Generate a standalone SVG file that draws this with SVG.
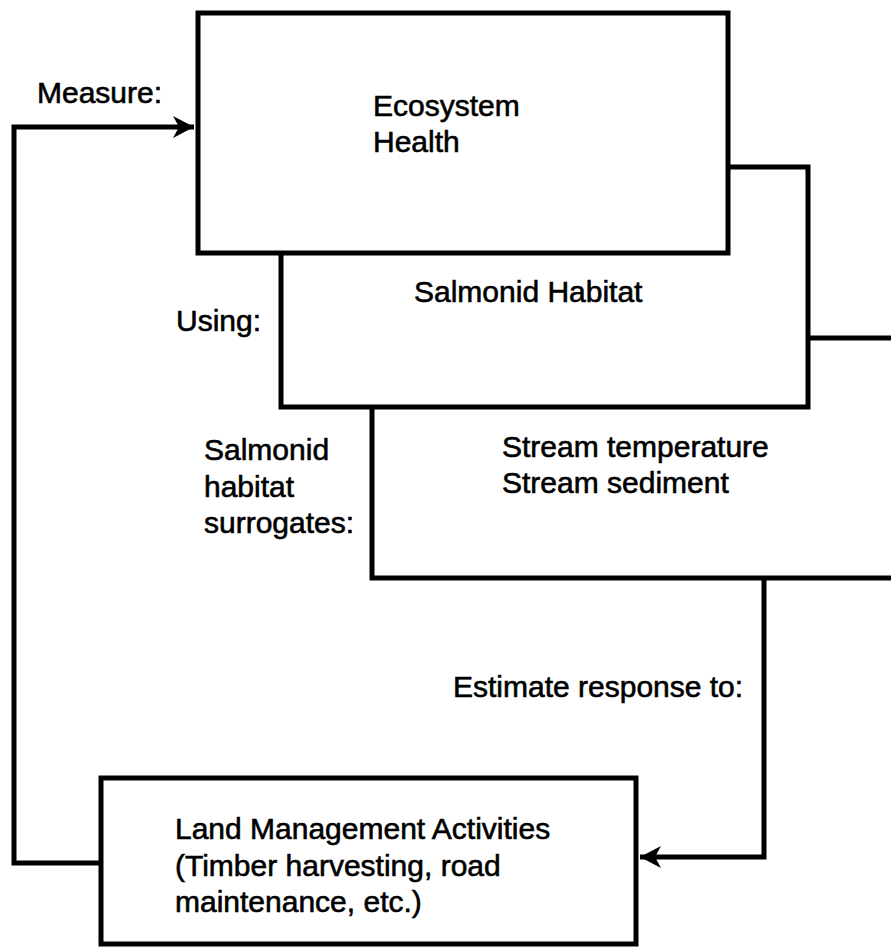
<svg xmlns="http://www.w3.org/2000/svg" width="891" height="948" viewBox="0 0 891 948">
<style>
.box{fill:#fff;stroke:#000;stroke-width:5}
.ln{fill:none;stroke:#000;stroke-width:5;stroke-linejoin:miter}
text{font-family:"Liberation Sans",Arial,sans-serif;font-size:30px;fill:#000;stroke:#000;stroke-width:0.6}
</style>
<defs>
<marker id="ah" markerUnits="userSpaceOnUse" markerWidth="26" markerHeight="26" viewBox="-24 -13 26 26" refX="0" refY="0" orient="auto">
<path d="M0,0 L-21,-11 L-15,0 L-21,11 Z" fill="#000"/>
</marker>
</defs>
<g id="connectors">
<path class="ln" d="M100,863 H14 V127 H194" marker-end="url(#ah)"/>
<path class="ln" d="M764,578 V857 H640" marker-end="url(#ah)"/>
</g>
<g id="stream">
<rect class="box" x="372" y="338" width="540" height="240"/>
<text x="502" y="457">Stream temperature</text>
<text x="502" y="493">Stream sediment</text>
</g>
<g id="salmonid">
<rect class="box" x="281" y="167" width="527" height="240"/>
<text x="414" y="302">Salmonid Habitat</text>
</g>
<g id="ecosystem">
<rect class="box" x="198" y="13" width="530" height="240"/>
<text x="373" y="116">Ecosystem</text>
<text x="373" y="152">Health</text>
</g>
<g id="land">
<rect class="box" x="101" y="778" width="535" height="166"/>
<text x="175" y="839">Land Management Activities</text>
<text x="175" y="876">(Timber harvesting, road</text>
<text x="175" y="912">maintenance, etc.)</text>
</g>
<g id="labels">
<text x="37" y="103">Measure:</text>
<text x="176" y="331">Using:</text>
<text x="204" y="460">Salmonid</text>
<text x="204" y="497">habitat</text>
<text x="204" y="533">surrogates:</text>
<text x="453" y="697">Estimate response to:</text>
</g>
</svg>
